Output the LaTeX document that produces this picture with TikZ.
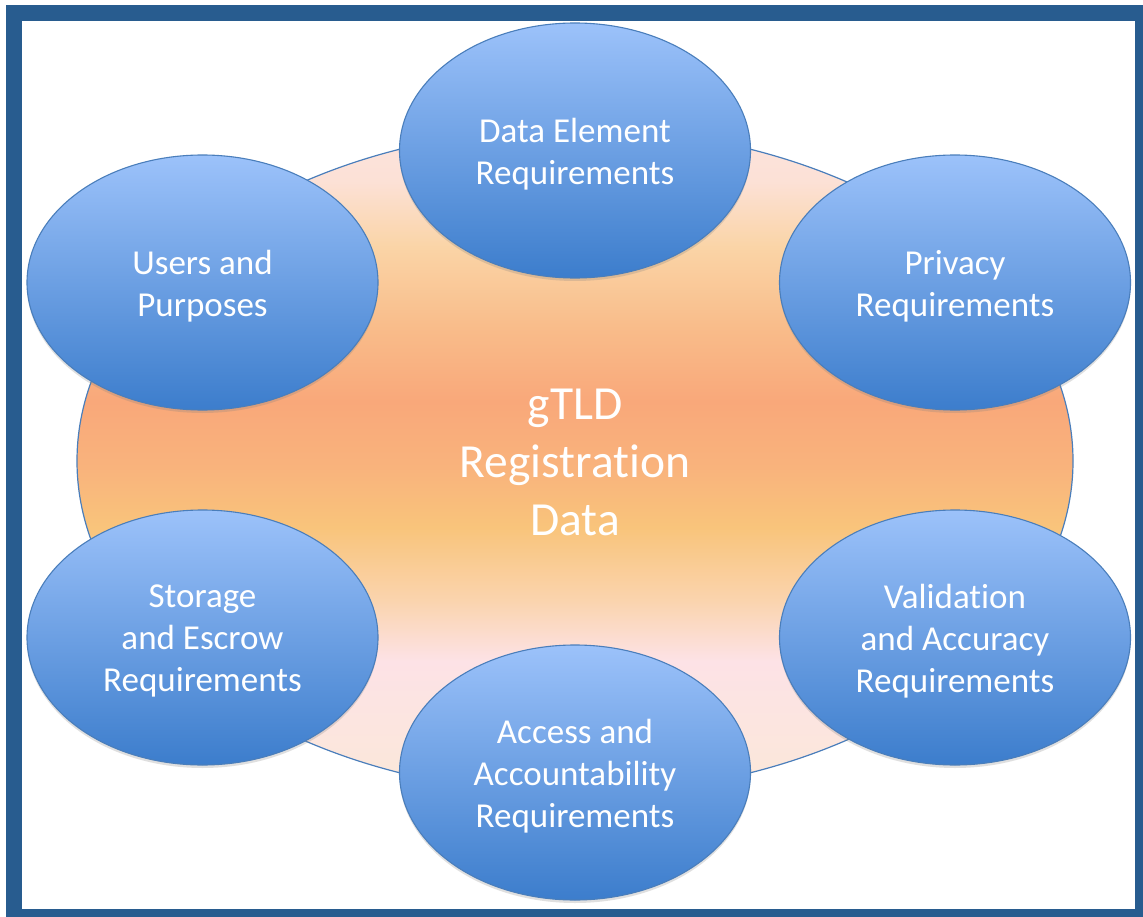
\documentclass[tikz,border=0pt]{standalone}
\usepackage{fontspec}
\setmainfont{Carlito}[Ligatures=NoCommon]
\usetikzlibrary{shapes.geometric,shadows}
\definecolor{frameblue}{HTML}{285C8F}
\definecolor{edgeblue}{HTML}{4A7EBB}
\definecolor{bluetop}{HTML}{9CC2FA}
\definecolor{bluebot}{HTML}{3C7DCC}
\definecolor{ca}{HTML}{FBE8D8}
\definecolor{cb}{HTML}{FCE4E2}
\definecolor{cc}{HTML}{FDE2E6}
\definecolor{cd}{HTML}{FAD4AE}
\definecolor{ce}{HTML}{F9C47B}
\definecolor{cf}{HTML}{F9B37C}
\definecolor{cg}{HTML}{F9A87A}
\definecolor{ch}{HTML}{F9BC8A}
\definecolor{ci}{HTML}{FAD4A6}
\definecolor{cj}{HTML}{FCE1D6}
\definecolor{ck}{HTML}{FCE3DE}
\pgfdeclareverticalshading{bigshade}{100bp}{color(0bp)=(ca); color(25bp)=(ca); color(32bp)=(cb); color(35bp)=(cc); color(39.5bp)=(cd); color(45bp)=(ce); color(49.5bp)=(cf); color(54.5bp)=(cg); color(60bp)=(ch); color(66bp)=(ci); color(71bp)=(cj); color(75bp)=(ck); color(100bp)=(ck)}
\begin{document}
\begin{tikzpicture}[x=1pt,y=-1pt,
  req/.style={ellipse, draw=edgeblue, line width=1.1pt, minimum width=351pt, minimum height=255pt, inner sep=0pt,
    top color=bluetop, bottom color=bluebot,
    drop shadow={opacity=0.25, shadow xshift=0pt, shadow yshift=-3pt}},
  reqtext/.style={text=white, align=center, inner sep=0pt, font=\fontsize{35}{42}\selectfont},
  core/.style={ellipse, draw=edgeblue, line width=1.2pt, minimum width=996pt, minimum height=666pt, inner sep=0pt,
    shade, shading=bigshade},
  coretext/.style={text=white, align=center, inner sep=0pt, font=\fontsize{47.5}{58}\selectfont}]
\useasboundingbox (0,0) rectangle (1143,917);
\fill[white] (0,0) rectangle (1143,917);
\fill[frameblue] (6,5) rectangle (1143,917);
\fill[white] (22,21) rectangle (1135,909);
\node[core] (center) at (575,461) {};
\node[coretext] (centert) at ([yshift=-1pt]center.center) {gTLD\\Registration\\Data};
\node[req] (data) at (575,150.5) {};
\node[req] (users) at (202.5,282.5) {};
\node[req] (privacy) at (955,282.5) {};
\node[req] (storage) at (202.5,637.5) {};
\node[req] (valid) at (955,637.5) {};
\node[req] (access) at (575,772.5) {};
\node[reqtext] (datat) at ([yshift=-3.5pt]data.center) {Data Element\\Requirements};
\node[reqtext] (userst) at ([yshift=-3.5pt]users.center) {Users and\\Purposes};
\node[reqtext] (privacyt) at ([yshift=-3.5pt]privacy.center) {Privacy\\Requirements};
\node[reqtext] (storaget) at ([yshift=-3.5pt]storage.center) {Storage\\and Escrow\\Requirements};
\node[reqtext] (validt) at ([yshift=-3.5pt]valid.center) {Validation\\and Accuracy\\Requirements};
\node[reqtext] (accesst) at ([yshift=-3.5pt]access.center) {Access and\\Accountability\\Requirements};
\end{tikzpicture}
\end{document}
